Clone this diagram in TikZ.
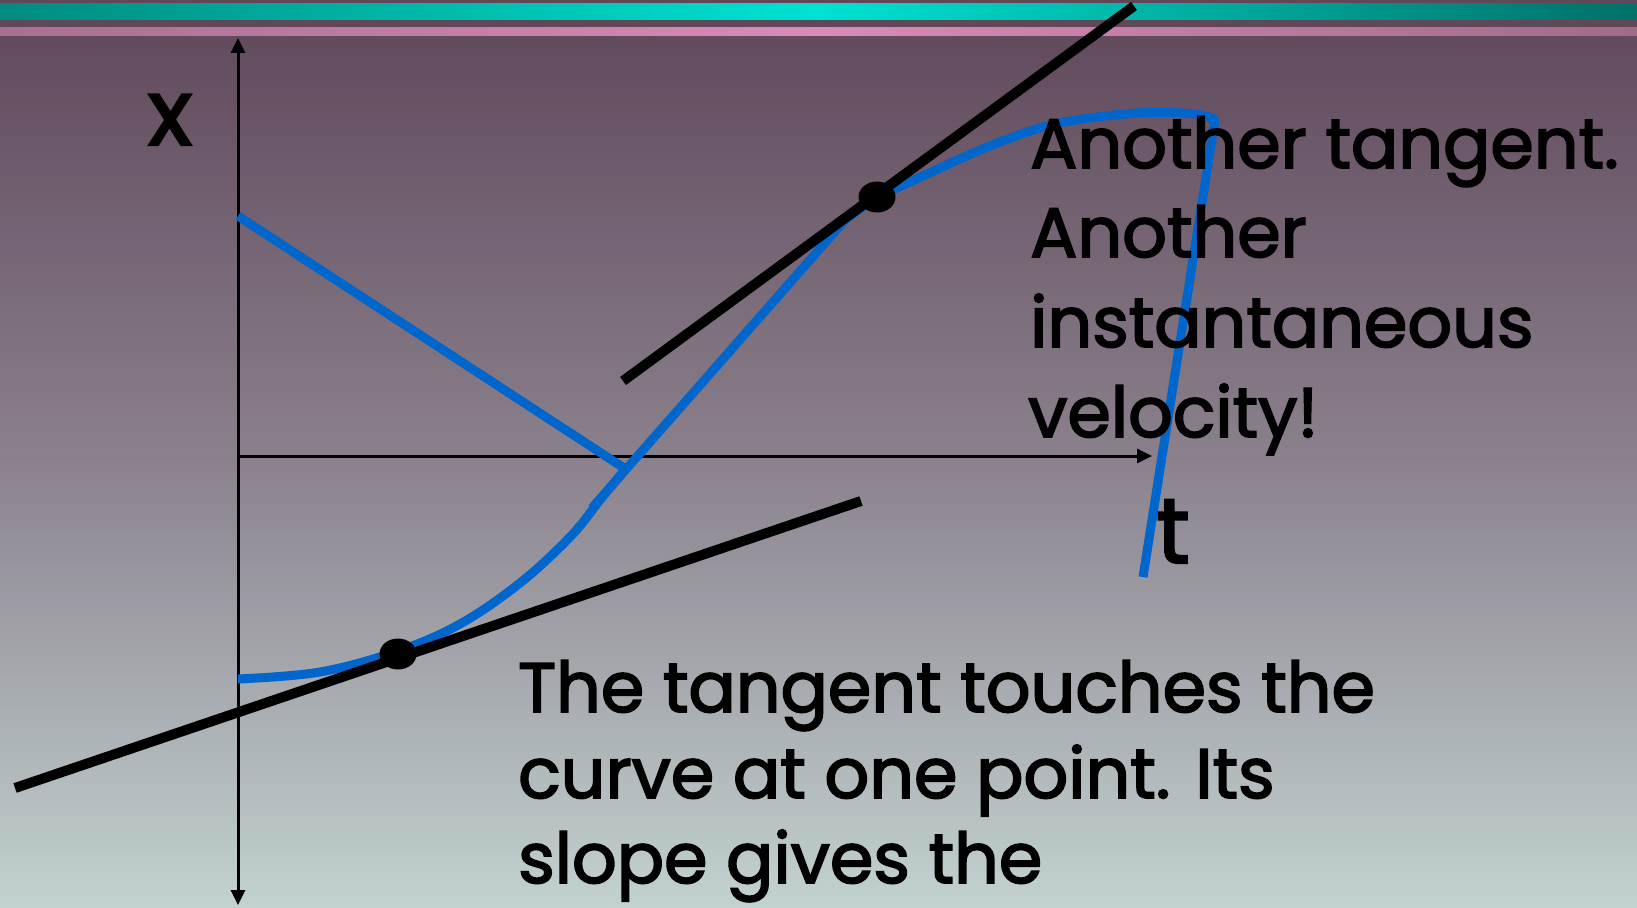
\documentclass[tikz,border=0pt]{standalone}
\usepackage{fontspec}
\setmainfont{Poppins}[FakeBold=2.5]
\usetikzlibrary{arrows.meta}
\usetikzlibrary{shapes.geometric}
\definecolor{bgtop}{RGB}{94,70,88}
\definecolor{bgmid}{RGB}{138,128,140}
\definecolor{bgbot}{RGB}{194,210,208}
\definecolor{bardark}{RGB}{96,72,88}
\definecolor{tealL}{RGB}{0,140,128}
\definecolor{tealM}{RGB}{0,226,210}
\definecolor{tealR}{RGB}{0,112,104}
\definecolor{pinkL}{RGB}{168,112,144}
\definecolor{pinkM}{RGB}{218,138,186}
\definecolor{pinkR}{RGB}{160,108,136}
\definecolor{curveblue}{RGB}{0,102,204}
\tikzset{
  axisline/.style={line width=3pt, black},
  tanline/.style={line width=10pt, black},
  bluecurve/.style={line width=9pt, curveblue, line join=round},
  tdot/.style={ellipse, fill=black, minimum width=37pt, minimum height=31pt, inner sep=0pt},
  bodytext/.style={anchor=base west, inner sep=0pt, font=\fontsize{70}{86}\selectfont},
  axlabel/.style={anchor=base, inner sep=0pt, font=\fontsize{92}{110}\selectfont}
}
\begin{document}
\begin{tikzpicture}[x=1pt,y=-1pt]
\useasboundingbox (0,0) rectangle (1637,907);
% background
\shade[top color=bgtop, bottom color=bgbot, middle color=bgmid] (0,0) rectangle (1637,907);
\fill[bardark] (0,0) rectangle (1637,36);
\shade[left color=tealL, right color=tealR, middle color=tealM] (0,4) rectangle (1637,19.5);
\shade[left color=pinkL, right color=pinkR, middle color=pinkM] (0,28) rectangle (1637,36);
% axes
\coordinate (ytop) at (238,38);
\coordinate (ybot) at (238,905);
\coordinate (xleft) at (238,456);
\coordinate (xright) at (1152,456);
\draw[axisline, {Triangle[length=15pt,width=14pt]}-{Triangle[length=15pt,width=14pt]}] (ybot) -- (ytop);
\draw[axisline, -{Triangle[length=15pt,width=14pt]}] (xleft) -- (xright);
% blue straight line from upper left
\coordinate (bl1) at (238,216);
\coordinate (bl2) at (624,468);
\draw[bluecurve] (bl1) -- (bl2);
% blue curve lower part
\draw[bluecurve] plot[smooth, tension=0.6] coordinates {(238,679) (320,672) (398,651) (460,624) (520,583) (570,537) (600,500) (627,467)};
% blue curve upper part
\draw[bluecurve] (592,508) -- plot[smooth, tension=0.6] coordinates {(845,220) (877,198) (925,175) (990,146) (1055,124) (1137,113) (1195,114) (1215,120)} -- (1143,577);
% tangents
\coordinate (t1a) at (15,788);
\coordinate (t1b) at (861,501);
\draw[tanline] (t1a) -- (t1b);
\coordinate (t2a) at (623,381);
\coordinate (t2b) at (1134,6);
\draw[tanline] (t2a) -- (t2b);
% dots
\node[tdot] (d1) at (398,654) {};
\node[tdot] (d2) at (877,197) {};
% labels
\node[axlabel] (xl) at (170,145) {x};
\node[axlabel] (tl) at (1173,563) {t};
% right text
\node[bodytext] (r1) at (1030,168) {Another tangent.};
\node[bodytext] (r2) at (1030,257) {Another};
\node[bodytext] (r3) at (1030,347) {instantaneous};
\node[bodytext] (r4) at (1028,437) {velocity!};
% bottom text
\node[bodytext] (b1) at (518,712) {The tangent touches the};
\node[bodytext] (b2) at (518,798) {curve at one point. Its};
\node[bodytext] (b3) at (518,883) {slope gives the};
\end{tikzpicture}
\end{document}
